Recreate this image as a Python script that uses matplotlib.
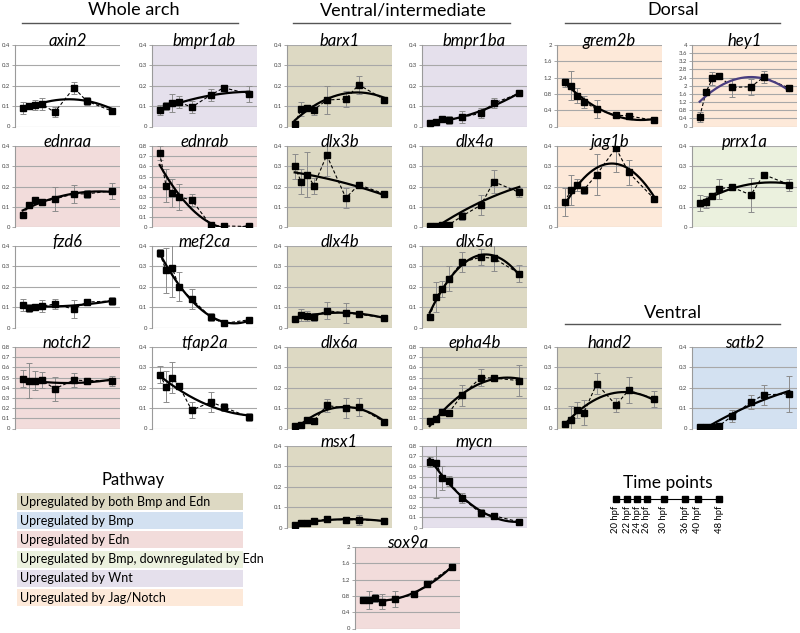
import numpy as np
import matplotlib
matplotlib.use('Agg')
import matplotlib.pyplot as plt
from matplotlib.lines import Line2D
from matplotlib.patches import Rectangle

plt.rcParams['font.family'] = ['Lato', 'DejaVu Sans']

# ---------------- data ----------------
hpf = [20, 22, 24, 26, 30, 36, 40, 48]
time_labels = ['20 hpf', '22 hpf', '24 hpf', '26 hpf', '30 hpf', '36 hpf', '40 hpf', '48 hpf']

axin2 = [0.09, 0.10, 0.105, 0.11, 0.07, 0.19, 0.125, 0.075]
axin2_err = [0.03, 0.01, 0.025, 0.03, 0.025, 0.03, 0.02, 0.01]
bmpr1ab = [0.08, 0.10, 0.115, 0.12, 0.095, 0.155, 0.19, 0.16]
bmpr1ab_err = [0.025, 0.02, 0.045, 0.03, 0.03, 0.03, 0.015, 0.04]
ednraa = [0.06, 0.11, 0.135, 0.125, 0.14, 0.165, 0.165, 0.18]
ednraa_err = [0.005, 0.01, 0.01, 0.015, 0.06, 0.045, 0.02, 0.04]
ednrab = [0.73, 0.41, 0.34, 0.30, 0.27, 0.02, 0.015, 0.01]
ednrab_err = [0.07, 0.16, 0.14, 0.13, 0.06, 0.01, 0.01, 0.01]
fzd6 = [0.11, 0.095, 0.10, 0.105, 0.115, 0.09, 0.125, 0.13]
fzd6_err = [0.03, 0.02, 0.01, 0.03, 0.025, 0.045, 0.01, 0.02]
mef2ca = [0.365, 0.28, 0.29, 0.20, 0.14, 0.05, 0.02, 0.038]
mef2ca_err = [0.02, 0.11, 0.14, 0.07, 0.05, 0.02, 0.005, 0.01]
notch2 = [0.49, 0.47, 0.47, 0.475, 0.39, 0.475, 0.47, 0.47]
notch2_err = [0.08, 0.17, 0.09, 0.08, 0.12, 0.07, 0.01, 0.05]
tfap2a = [0.265, 0.205, 0.25, 0.21, 0.09, 0.13, 0.105, 0.055]
tfap2a_err = [0.04, 0.075, 0.075, 0.01, 0.04, 0.05, 0.02, 0.02]

barx1 = [0.012, 0.085, 0.092, 0.082, 0.13, 0.135, 0.205, 0.132]
barx1_err = [0.005, 0.035, 0.01, 0.025, 0.07, 0.04, 0.045, 0.01]
bmpr1ba = [0.015, 0.022, 0.035, 0.03, 0.045, 0.065, 0.115, 0.162]
bmpr1ba_err = [0.005, 0.005, 0.005, 0.02, 0.03, 0.025, 0.025, 0.01]
dlx3b = [0.30, 0.225, 0.26, 0.205, 0.355, 0.145, 0.21, 0.165]
dlx3b_err = [0.06, 0.06, 0.11, 0.04, 0.10, 0.05, 0.01, 0.015]
dlx4a = [0.008, 0.005, 0.012, 0.013, 0.055, 0.11, 0.225, 0.172]
dlx4a_err = [0.005, 0.003, 0.005, 0.005, 0.02, 0.05, 0.055, 0.02]
dlx4b = [0.042, 0.06, 0.055, 0.052, 0.083, 0.07, 0.065, 0.048]
dlx4b_err = [0.005, 0.03, 0.025, 0.02, 0.04, 0.05, 0.01, 0.005]
dlx5a = [0.052, 0.15, 0.19, 0.24, 0.32, 0.345, 0.34, 0.265]
dlx5a_err = [0.01, 0.075, 0.04, 0.06, 0.05, 0.04, 0.065, 0.04]
dlx6a = [0.01, 0.015, 0.04, 0.038, 0.113, 0.10, 0.105, 0.032]
dlx6a_err = [0.005, 0.005, 0.01, 0.015, 0.03, 0.05, 0.045, 0.005]
epha4b = [0.07, 0.095, 0.165, 0.155, 0.325, 0.50, 0.495, 0.47]
epha4b_err = [0.02, 0.03, 0.02, 0.02, 0.10, 0.08, 0.02, 0.15]
msx1 = [0.012, 0.022, 0.022, 0.033, 0.04, 0.038, 0.038, 0.033]
msx1_err = [0.005, 0.01, 0.005, 0.005, 0.005, 0.015, 0.025, 0.005]
mycn = [0.64, 0.635, 0.485, 0.46, 0.29, 0.14, 0.115, 0.055]
mycn_err = [0.05, 0.35, 0.12, 0.05, 0.05, 0.04, 0.01, 0.01]
sox9a = [0.70, 0.70, 0.74, 0.66, 0.72, 0.84, 1.08, 1.52]
sox9a_err = [0.08, 0.22, 0.10, 0.18, 0.20, 0.05, 0.05, 0.05]

grem2b = [1.08, 1.0, 0.76, 0.61, 0.42, 0.28, 0.26, 0.15]
grem2b_err = [0.12, 0.36, 0.18, 0.15, 0.22, 0.05, 0.05, 0.04]
hey1 = [0.48, 1.7, 2.36, 2.5, 1.92, 1.95, 2.42, 1.88]
hey1_err = [0.25, 0.1, 0.3, 0.1, 0.45, 0.4, 0.3, 0.15]
jag1b = [0.125, 0.185, 0.21, 0.185, 0.26, 0.39, 0.27, 0.14]
jag1b_err = [0.07, 0.075, 0.03, 0.02, 0.10, 0.12, 0.06, 0.01]
prrx1a = [0.12, 0.125, 0.155, 0.19, 0.198, 0.16, 0.26, 0.21]
prrx1a_err = [0.04, 0.03, 0.01, 0.05, 0.01, 0.085, 0.005, 0.03]
hand2 = [0.02, 0.042, 0.09, 0.078, 0.22, 0.115, 0.188, 0.145]
hand2_err = [0.005, 0.07, 0.04, 0.06, 0.05, 0.035, 0.065, 0.04]
satb2 = [0.008, 0.008, 0.008, 0.012, 0.06, 0.13, 0.165, 0.17]
satb2_err = [0.003, 0.003, 0.003, 0.003, 0.03, 0.035, 0.05, 0.09]

pathways = ['Upregulated by both Bmp and Edn', 'Upregulated by Bmp', 'Upregulated by Edn',
            'Upregulated by Bmp, downregulated by Edn', 'Upregulated by Wnt',
            'Upregulated by Jag/Notch']
pathway_colors = ['#ddd9c3', '#d3e1f1', '#f2dcdb', '#ebf1de', '#e5e0ec', '#fde9d9']
BE, BMP, EDN, BMPD, WNT, JAG = pathway_colors
WHITE = '#ffffff'

# ---------------- layout ----------------
W, H = 800, 633
fig = plt.figure(figsize=(8, 6.33), dpi=100)
fig.patch.set_facecolor('white')

col_x = [15, 152, 287, 422, 557, 692]
row_top = [45, 146, 246, 347, 446, 547]
PW, PH = 105, 81.5

# name, data, err, left px, top px, ymax, ystep, bg
panels = [
    ('axin2', axin2, axin2_err, col_x[0], row_top[0], 0.4, 0.1, WHITE),
    ('bmpr1ab', bmpr1ab, bmpr1ab_err, col_x[1], row_top[0], 0.4, 0.1, WNT),
    ('ednraa', ednraa, ednraa_err, col_x[0], row_top[1], 0.4, 0.1, EDN),
    ('ednrab', ednrab, ednrab_err, col_x[1], row_top[1], 0.8, 0.1, EDN),
    ('fzd6', fzd6, fzd6_err, col_x[0], row_top[2], 0.4, 0.1, WHITE),
    ('mef2ca', mef2ca, mef2ca_err, col_x[1], row_top[2], 0.4, 0.1, WHITE),
    ('notch2', notch2, notch2_err, col_x[0], row_top[3], 0.8, 0.1, EDN),
    ('tfap2a', tfap2a, tfap2a_err, col_x[1], row_top[3], 0.4, 0.1, WHITE),
    ('barx1', barx1, barx1_err, col_x[2], row_top[0], 0.4, 0.1, BE),
    ('bmpr1ba', bmpr1ba, bmpr1ba_err, col_x[3], row_top[0], 0.4, 0.1, WNT),
    ('dlx3b', dlx3b, dlx3b_err, col_x[2], row_top[1], 0.4, 0.1, BE),
    ('dlx4a', dlx4a, dlx4a_err, col_x[3], row_top[1], 0.4, 0.1, BE),
    ('dlx4b', dlx4b, dlx4b_err, col_x[2], row_top[2], 0.4, 0.1, BE),
    ('dlx5a', dlx5a, dlx5a_err, col_x[3], row_top[2], 0.4, 0.1, BE),
    ('dlx6a', dlx6a, dlx6a_err, col_x[2], row_top[3], 0.4, 0.1, BE),
    ('epha4b', epha4b, epha4b_err, col_x[3], row_top[3], 0.8, 0.1, BE),
    ('msx1', msx1, msx1_err, col_x[2], row_top[4], 0.4, 0.1, BE),
    ('mycn', mycn, mycn_err, col_x[3], row_top[4], 0.8, 0.1, WNT),
    ('sox9a', sox9a, sox9a_err, 355, row_top[5], 2.0, 0.4, EDN),
    ('grem2b', grem2b, grem2b_err, col_x[4], row_top[0], 2.0, 0.4, JAG),
    ('hey1', hey1, hey1_err, col_x[5], row_top[0], 4.0, 0.4, JAG),
    ('jag1b', jag1b, jag1b_err, col_x[4], row_top[1], 0.4, 0.1, JAG),
    ('prrx1a', prrx1a, prrx1a_err, col_x[5], row_top[1], 0.4, 0.1, BMPD),
    ('hand2', hand2, hand2_err, col_x[4], row_top[3], 0.4, 0.1, BE),
    ('satb2', satb2, satb2_err, col_x[5], row_top[3], 0.4, 0.1, BMP),
]

x = np.array(hpf, dtype=float)
xfit = np.linspace(x.min(), x.max(), 200)

for name, y, e, lx, ty, ymax, ystep, bg in panels:
    ax = fig.add_axes([lx / W, 1 - (ty + PH) / H, PW / W, PH / H])
    ax.set_facecolor(bg)
    ax.set_xlim(17.6, 50.4)
    ax.set_ylim(0, ymax)
    ticks = np.round(np.arange(0, ymax + ystep / 2, ystep), 2)
    ax.set_yticks(ticks)
    ax.set_yticklabels([f'{t:g}' for t in ticks])
    ax.set_xticks([])
    ax.grid(axis='y', color='#a8a8a8', linewidth=0.8)
    ax.set_axisbelow(True)
    for s in ['top', 'right', 'bottom']:
        ax.spines[s].set_visible(False)
    ax.spines['left'].set_color('#9a9a9a')
    ax.spines['left'].set_linewidth(0.8)
    ax.tick_params(axis='y', labelsize=4.3, length=2, width=0.6, color='#9a9a9a',
                   pad=1.5, labelcolor='#444444')
    ax.errorbar(x, y, yerr=e, fmt='none', ecolor='#8c8c8c', elinewidth=0.7,
                capsize=2.0, capthick=0.7, zorder=2)
    ax.plot(x, y, color='black', linestyle=(0, (3, 2)), linewidth=0.8, zorder=3)
    coef = np.polyfit(x, y, 2)
    tcolor = '#4a3d80' if name == 'hey1' else 'black'
    ax.plot(xfit, np.polyval(coef, xfit), color=tcolor, linewidth=1.6, zorder=4)
    ax.plot(x, y, linestyle='none', marker='s', markersize=4.6, color='black', zorder=5)
    ax.text(0.5, 0.985, name, transform=ax.transAxes, ha='center', va='baseline',
            fontsize=12, style='italic', zorder=10)

# ---------------- group headers ----------------
def header(text, cx, ty, x0, x1, ly):
    fig.text(cx / W, 1 - ty / H, text, ha='center', va='center', fontsize=13)
    fig.add_artist(Line2D([x0 / W, x1 / W], [1 - ly / H, 1 - ly / H], color='#555555',
                          linewidth=1.0))

header('Whole arch', 134, 10, 22, 238, 23)
header('Ventral/intermediate', 403, 10, 293, 510, 23)
header('Dorsal', 673, 10, 565, 780, 23)
header('Ventral', 673, 313, 565, 780, 324)

# ---------------- pathway legend ----------------
fig.text(133 / W, 1 - 480 / H, 'Pathway', ha='center', va='center', fontsize=12)
for i, (lab, col) in enumerate(zip(pathways, pathway_colors)):
    top = 493 + i * 19.2
    fig.add_artist(Rectangle((17 / W, 1 - (top + 17) / H), 226 / W, 17 / H,
                             transform=fig.transFigure, facecolor=col, edgecolor='none'))
    fig.text(20 / W, 1 - (top + 8.5) / H, lab, ha='left', va='center', fontsize=9.0)

# ---------------- time points legend ----------------
fig.text(668 / W, 1 - 483 / H, 'Time points', ha='center', va='center', fontsize=12.5)
tax = fig.add_axes([616 / W, 1 - 503 / H, 103 / W, 8 / H])
tax.set_xscale('log')
tax.set_xlim(20, 48)
tax.set_ylim(-1, 1)
tax.axis('off')
tax.plot(hpf, [0] * len(hpf), color='black', linewidth=0.8, marker='s', markersize=4.6,
         clip_on=False)
for h, lab in zip(hpf, time_labels):
    tax.text(h, -1.6, lab, rotation=90, ha='center', va='top', fontsize=6.8,
             linespacing=1.0)

fig.savefig('out.png', dpi=100, facecolor='white')
